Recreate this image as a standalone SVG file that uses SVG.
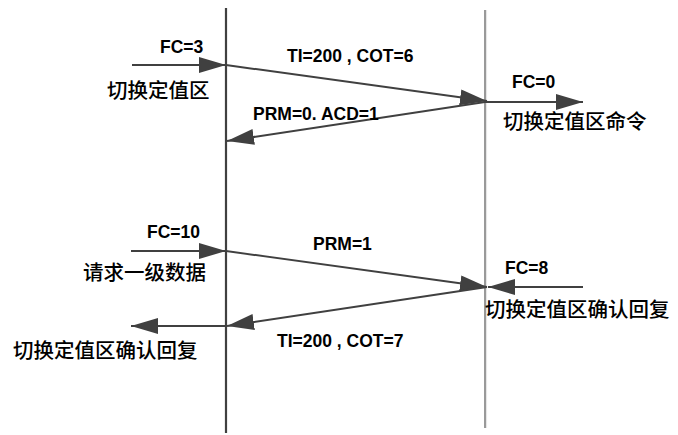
<svg xmlns="http://www.w3.org/2000/svg" width="678" height="435" viewBox="0 0 678 435">
<defs>
<marker id="ah" markerUnits="userSpaceOnUse" markerWidth="28" markerHeight="18" refX="27" refY="8" orient="auto">
<path d="M0,0 L27,8 L0,16 z" fill="#404040"/>
</marker>
<style>
.ln{stroke:#404040;stroke-width:2;fill:none}
.ar{stroke:#404040;stroke-width:2;fill:none;marker-end:url(#ah)}
.lat{font-family:"Liberation Sans",Arial,sans-serif;font-weight:bold;font-size:17.5px;fill:#000}
.cjk{font-family:"Noto Sans CJK SC","Noto Sans CJK TC",sans-serif;font-size:20.5px;font-weight:500;fill:#000}
</style>
</defs>
<rect width="678" height="435" fill="#fff"/>
<g id="lifelines">
<line x1="226" y1="8" x2="226" y2="433" stroke="#404040" stroke-width="2.2"/>
<line x1="485" y1="10" x2="485" y2="428" stroke="#555" stroke-width="1.2"/>
<line x1="486.6" y1="10" x2="486.6" y2="428" stroke="#e4e4e4" stroke-width="1"/>
</g>
<g id="connectors">
<line class="ar" x1="132" y1="65" x2="226" y2="65"/>
<line class="ar" x1="226" y1="65" x2="487" y2="101"/>
<line class="ar" x1="485" y1="102" x2="227" y2="141"/>
<line class="ar" x1="485" y1="102" x2="583" y2="102"/>
<line class="ar" x1="131" y1="251" x2="226" y2="251"/>
<line class="ar" x1="226" y1="251" x2="487" y2="287"/>
<line class="ar" x1="487" y1="287" x2="227" y2="326"/>
<line class="ar" x1="226" y1="326" x2="131" y2="326"/>
<line class="ar" x1="583" y1="287" x2="488" y2="287"/>
</g>
<g id="n-fc3"><text class="lat" x="160" y="53">FC=3</text><text class="cjk" x="107" y="98">切换定值区</text></g>
<g id="n-ti6"><text class="lat" x="287" y="62">TI=200 , COT=6</text></g>
<g id="n-prm0"><text class="lat" x="253" y="120">PRM=0. ACD=1</text></g>
<g id="n-fc0"><text class="lat" x="512" y="88">FC=0</text><text class="cjk" x="503" y="129">切换定值区命令</text></g>
<g id="n-fc10"><text class="lat" x="147" y="238">FC=10</text><text class="cjk" x="83" y="280">请求一级数据</text></g>
<g id="n-prm1"><text class="lat" x="313" y="250">PRM=1</text></g>
<g id="n-fc8"><text class="lat" x="505" y="274">FC=8</text><text class="cjk" x="485" y="317">切换定值区确认回复</text></g>
<g id="n-ti7"><text class="lat" x="277" y="347">TI=200 , COT=7</text></g>
<g id="n-reply"><text class="cjk" x="13" y="358">切换定值区确认回复</text></g>
</svg>
